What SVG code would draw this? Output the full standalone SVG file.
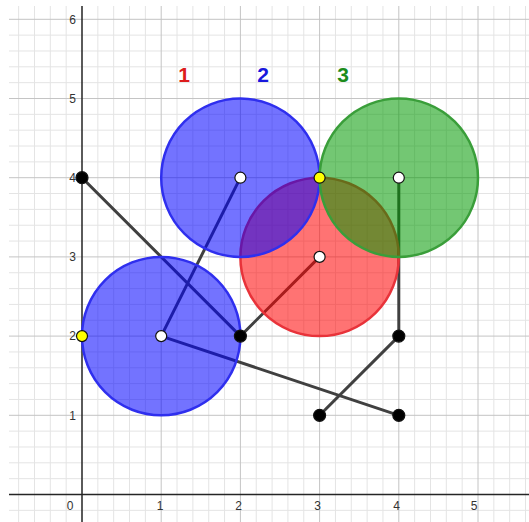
<svg xmlns="http://www.w3.org/2000/svg" width="529" height="522" viewBox="0 0 529 522">
<style>
.minor{stroke:#e4e4e4;stroke-width:1;fill:none}
.major{stroke:#c4c4c4;stroke-width:1;fill:none}
.axis{stroke:#252525;stroke-width:1.5;fill:none}
.tick{font-family:"Liberation Sans",Arial,sans-serif;font-size:12px;fill:#333}
.seg{stroke:#404040;stroke-width:3;stroke-linecap:round;fill:none}
.pt{stroke:#111;stroke-width:1.2}
.blk{fill:#000}
.wht{fill:#fff}
.yel{fill:#ffff00}
.lbl{font-family:"Liberation Sans",Arial,sans-serif;font-size:21px;font-weight:bold;text-anchor:middle}
.cb{fill:#0000ff;fill-opacity:0.55;stroke:#2f2fee;stroke-width:2.5}
.cr{fill:#ff0000;fill-opacity:0.55;stroke:#e8333a;stroke-width:2.5}
.cg{fill:#009900;fill-opacity:0.55;stroke:#3a9e3a;stroke-width:2.5}
</style>
<rect width="529" height="522" fill="#fff"/>
<g id="grid">
<path class="minor" d="M18.64 6V522M34.48 6V522M50.32 6V522M66.16 6V522M97.84 6V522M113.68 6V522M129.52 6V522M145.36 6V522M177.04 6V522M192.88 6V522M208.72 6V522M224.56 6V522M256.24 6V522M272.08 6V522M287.92 6V522M303.76 6V522M335.44 6V522M351.28 6V522M367.12 6V522M382.96 6V522M414.64 6V522M430.48 6V522M446.32 6V522M462.16 6V522M493.84 6V522M509.68 6V522M525.52 6V522"/>
<path class="minor" d="M9 510.34H529M9 478.66H529M9 462.82H529M9 446.98H529M9 431.14H529M9 399.46H529M9 383.62H529M9 367.78H529M9 351.94H529M9 320.26H529M9 304.42H529M9 288.58H529M9 272.74H529M9 241.06H529M9 225.22H529M9 209.38H529M9 193.54H529M9 161.86H529M9 146.02H529M9 130.18H529M9 114.34H529M9 82.66H529M9 66.82H529M9 50.98H529M9 35.14H529"/>
<path class="major" d="M161.2 6V522M240.4 6V522M319.6 6V522M398.8 6V522M478 6V522M9 415.3H529M9 336.1H529M9 256.9H529M9 177.7H529M9 98.5H529M9 19.3H529"/>
<path class="axis" d="M82 6V522M9 494.5H529"/>
<g class="tick" text-anchor="end">
<text x="76" y="23.5">6</text>
<text x="76" y="102.5">5</text>
<text x="76" y="181.5">4</text>
<text x="76" y="261">3</text>
<text x="76" y="340">2</text>
<text x="76" y="419.5">1</text>
</g>
<g class="tick" text-anchor="middle">
<text x="70" y="510">0</text>
<text x="160" y="510">1</text>
<text x="238.5" y="510">2</text>
<text x="317.5" y="510">3</text>
<text x="396.5" y="510">4</text>
<text x="474" y="510">5</text>
</g>
</g>
<g id="connectors">
<line class="seg" x1="82" y1="177.7" x2="240.4" y2="336.1"/>
<line class="seg" x1="161.2" y1="336.1" x2="240.4" y2="177.7"/>
<line class="seg" x1="161.2" y1="336.1" x2="398.8" y2="415.3"/>
<line class="seg" x1="240.4" y1="336.1" x2="319.6" y2="256.9"/>
<line class="seg" x1="398.8" y1="177.7" x2="398.8" y2="336.1"/>
<line class="seg" x1="398.8" y1="336.1" x2="319.6" y2="415.3"/>
</g>
<g id="circle-red"><circle class="cr" cx="319.6" cy="256.9" r="79.2"/></g>
<g id="circle-blue-top"><circle class="cb" cx="240.4" cy="177.7" r="79.2"/></g>
<g id="circle-blue-bottom"><circle class="cb" cx="161.2" cy="336.1" r="79.2"/></g>
<g id="circle-green"><circle class="cg" cx="398.8" cy="177.7" r="79.2"/></g>
<g id="labels">
<text class="lbl" x="184" y="82" fill="#dd1c1c">1</text>
<text class="lbl" x="263" y="82" fill="#1818dd">2</text>
<text class="lbl" x="343" y="82" fill="#1b8c1b">3</text>
</g>
<g id="p-0-4"><circle class="pt blk" cx="82" cy="177.7" r="6"/></g>
<g id="p-2-2"><circle class="pt blk" cx="240.4" cy="336.1" r="6"/></g>
<g id="p-4-2"><circle class="pt blk" cx="398.8" cy="336.1" r="6"/></g>
<g id="p-3-1"><circle class="pt blk" cx="319.6" cy="415.3" r="6"/></g>
<g id="p-4-1"><circle class="pt blk" cx="398.8" cy="415.3" r="6"/></g>
<g id="p-2-4"><circle class="pt wht" cx="240.4" cy="177.7" r="5.5"/></g>
<g id="p-1-2"><circle class="pt wht" cx="161.2" cy="336.1" r="5.5"/></g>
<g id="p-3-3"><circle class="pt wht" cx="319.6" cy="256.9" r="5.5"/></g>
<g id="p-4-4"><circle class="pt wht" cx="398.8" cy="177.7" r="5.5"/></g>
<g id="p-0-2"><circle class="pt yel" cx="82" cy="336.1" r="5.5"/></g>
<g id="p-3-4"><circle class="pt yel" cx="319.6" cy="177.7" r="5.5"/></g>
</svg>
